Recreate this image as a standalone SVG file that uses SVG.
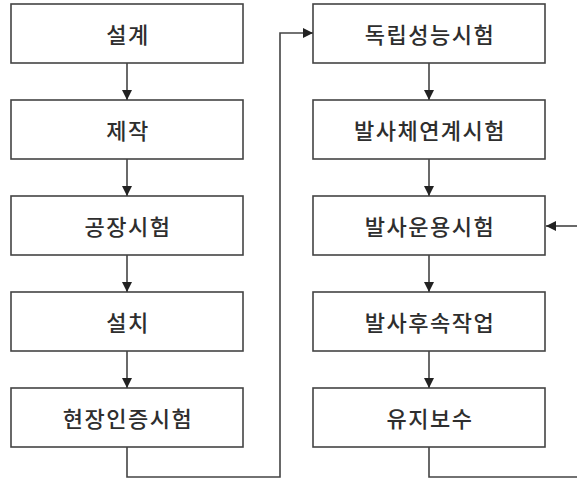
<svg xmlns="http://www.w3.org/2000/svg" width="577" height="483" viewBox="0 0 577 483">
  <style>
    .box rect { fill: #ffffff; stroke: #444444; stroke-width: 1.6; }
    .box text { font-family: "Noto Sans CJK KR", "Noto Sans", sans-serif; font-size: 22px; font-weight: 500; letter-spacing: 1.5px; fill: #2e2e2e; text-anchor: middle; dominant-baseline: central; }
    .link { fill: none; stroke: #444444; stroke-width: 1.6; marker-end: url(#arrow); }
  </style>
  <defs>
    <marker id="arrow" viewBox="0 0 10 10" refX="10" refY="5" markerWidth="10" markerHeight="10" markerUnits="userSpaceOnUse" orient="auto">
      <path d="M0,0 L10,5 L0,10 z" fill="#222222"/>
    </marker>
  </defs>
  <rect width="577" height="483" fill="#ffffff"/>

  <!-- left column -->
  <g id="design" class="box"><rect x="11" y="4" width="232" height="59"/><text x="128" y="33">설계</text></g>
  <g id="fabrication" class="box"><rect x="11" y="100" width="232" height="59"/><text x="128" y="129">제작</text></g>
  <g id="factory-test" class="box"><rect x="11" y="196" width="232" height="59"/><text x="128" y="225">공장시험</text></g>
  <g id="install" class="box"><rect x="11" y="292" width="232" height="59"/><text x="128" y="321">설치</text></g>
  <g id="site-cert-test" class="box"><rect x="11" y="388" width="232" height="59"/><text x="128" y="417">현장인증시험</text></g>

  <!-- right column -->
  <g id="standalone-test" class="box"><rect x="313" y="4" width="232" height="59"/><text x="430" y="33">독립성능시험</text></g>
  <g id="vehicle-link-test" class="box"><rect x="313" y="100" width="232" height="59"/><text x="430" y="129">발사체연계시험</text></g>
  <g id="launch-ops-test" class="box"><rect x="313" y="196" width="232" height="59"/><text x="430" y="225">발사운용시험</text></g>
  <g id="post-launch" class="box"><rect x="313" y="292" width="232" height="59"/><text x="430" y="321">발사후속작업</text></g>
  <g id="maintenance" class="box"><rect x="313" y="388" width="232" height="59"/><text x="430" y="417">유지보수</text></g>

  <g id="connectors">
    <path class="link" d="M127,63 V100"/>
    <path class="link" d="M127,159 V196"/>
    <path class="link" d="M127,255 V292"/>
    <path class="link" d="M127,351 V388"/>
    <path class="link" d="M127,447 V477 H280 V33 H313"/>
    <path class="link" d="M429,63 V100"/>
    <path class="link" d="M429,159 V196"/>
    <path class="link" d="M429,255 V292"/>
    <path class="link" d="M429,351 V388"/>
    <path fill="none" stroke="#444444" stroke-width="1.6" d="M429,447 V477 H577"/>
    <path class="link" d="M577,226 H546"/>
  </g>
</svg>
